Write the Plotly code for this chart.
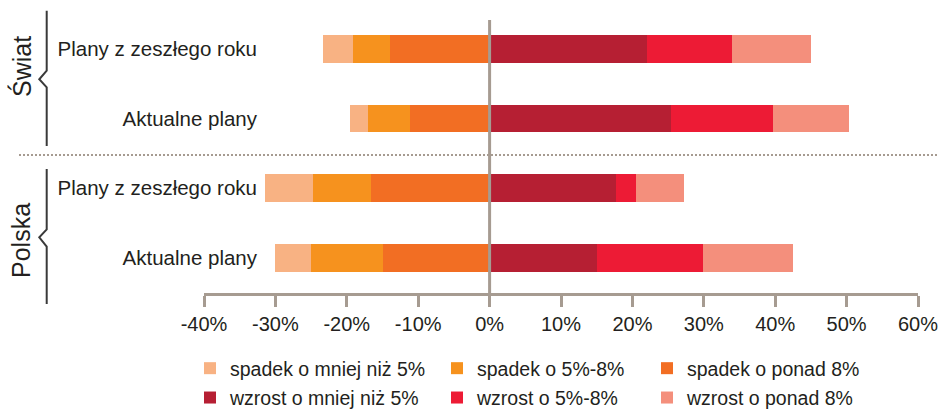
"""Diverging stacked bar chart: planned changes, Świat vs Polska."""

import plotly.graph_objects as go

# ---------------------------------------------------------------------------
# Data
# ---------------------------------------------------------------------------

row_labels = [
    "Plany z zeszłego roku", "Aktualne plany",
    "Plany z zeszłego roku", "Aktualne plany",
]
group_labels = ["Świat", "Polska"]

# decreases (negative side, from the zero line outwards)
spadek_ponad_8 = [-14.0, -11.1, -16.6, -14.9]
spadek_5_8 = [-5.2, -5.9, -8.1, -10.1]
spadek_mniej_5 = [-4.1, -2.5, -6.7, -5.0]

# increases (positive side, from the zero line outwards)
wzrost_mniej_5 = [22.1, 25.4, 17.7, 15.1]
wzrost_5_8 = [11.8, 14.3, 2.8, 14.8]
wzrost_ponad_8 = [11.1, 10.6, 6.7, 12.6]

x_tick_vals = [-40, -30, -20, -10, 0, 10, 20, 30, 40, 50, 60]
x_tick_labels = ["-40%", "-30%", "-20%", "-10%", "0%", "10%",
                 "20%", "30%", "40%", "50%", "60%"]

# ---------------------------------------------------------------------------
# Style
# ---------------------------------------------------------------------------

W, H = 940, 410
L, R, T, B = 204, 22, 20, 117

FONT = "Liberation Sans, Arial, Helvetica, sans-serif"
TEXT = "#231f20"
AXIS = "#a69b91"
BRACE = "#3a3a3a"

# name, values, colour, legend column
SERIES = [
    ("spadek o ponad 8%", spadek_ponad_8, "#f26e23", "legend3"),
    ("spadek o 5%-8%", spadek_5_8, "#f6921e", "legend2"),
    ("spadek o mniej niż 5%", spadek_mniej_5, "#f8b283", "legend"),
    ("wzrost o mniej niż 5%", wzrost_mniej_5, "#b61f33", "legend"),
    ("wzrost o 5%-8%", wzrost_5_8, "#ed1b35", "legend2"),
    ("wzrost o ponad 8%", wzrost_ponad_8, "#f48f7c", "legend3"),
]


def px_x(px):
    return (px - L) / (W - L - R)


def px_y(py):
    return (H - B - py) / (H - T - B)


def path(points):
    return "M " + " L ".join(f"{px_x(x):.4f},{px_y(y):.4f}" for x, y in points)


def legend_box(left_px):
    return dict(
        xref="container", yref="container",
        x=left_px / W, y=1 - 349 / H,
        xanchor="left", yanchor="top",
        orientation="v",
        traceorder="grouped", tracegroupgap=1,
        bgcolor="rgba(0,0,0,0)",
        font=dict(family=FONT, size=19.5, color=TEXT),
    )


# ---------------------------------------------------------------------------
# Figure
# ---------------------------------------------------------------------------

rows = list(range(len(row_labels)))

fig = go.Figure()
for name, values, colour, legend in SERIES:
    fig.add_trace(go.Bar(
        y=rows,
        x=values,
        orientation="h",
        name=name,
        marker=dict(color=colour, line=dict(width=0)),
        width=0.4,
        legend=legend,
        legendgroup=name,
        hoverinfo="skip",
    ))

shapes = [
    # zero line
    dict(type="line", xref="x", yref="paper", x0=0, x1=0, y0=0, y1=1,
         line=dict(color=AXIS, width=3), layer="above"),
    # separator between groups
    dict(type="line", xref="paper", yref="paper",
         x0=px_x(19), x1=px_x(938), y0=px_y(155), y1=px_y(155),
         line=dict(color=AXIS, width=2, dash="2px,2px")),
    # braces
    dict(type="path", xref="paper", yref="paper",
         path=path([(46.7, 10.7), (46.7, 70.7), (39.3, 79.3), (46.7, 87.3), (46.7, 146)]),
         line=dict(color=BRACE, width=2)),
    dict(type="path", xref="paper", yref="paper",
         path=path([(46.7, 169), (46.7, 229.3), (39.3, 237.3), (46.7, 246.7), (46.7, 304)]),
         line=dict(color=BRACE, width=2)),
]

annotations = [
    dict(text=label, xref="paper", yref="paper", x=px_x(21), y=px_y(cy),
         textangle=-90, showarrow=False, xanchor="center", yanchor="middle",
         font=dict(family=FONT, size=25, color=TEXT))
    for label, cy in zip(group_labels, [67, 241])
]

fig.update_layout(
    width=W, height=H,
    margin=dict(l=L, r=R, t=T, b=B, autoexpand=False),
    paper_bgcolor="white", plot_bgcolor="white",
    font=dict(family=FONT, size=20, color=TEXT),
    barmode="relative",
    bargap=0,
    xaxis=dict(
        range=[-40, 60],
        tickvals=x_tick_vals, ticktext=x_tick_labels,
        showgrid=False, zeroline=False,
        showline=True, linecolor=AXIS, linewidth=3,
        ticks="outside", ticklen=11, tickwidth=3, tickcolor=AXIS,
        tickfont=dict(family=FONT, size=20, color=TEXT),
        automargin=False,
        fixedrange=True,
    ),
    yaxis=dict(
        range=[3.504, -0.414],
        tickvals=rows, ticktext=row_labels,
        showgrid=False, zeroline=False, showline=False, ticks="",
        anchor="free", position=px_x(257),
        tickfont=dict(family=FONT, size=20.5, color=TEXT),
        automargin=False,
        fixedrange=True,
    ),
    legend=legend_box(190),
    legend2=legend_box(437),
    legend3=legend_box(647),
    shapes=shapes,
    annotations=annotations,
)

# drop the browser's default 8px page margin so the figure sits at (0, 0)
fig.write_html(
    "out.html",
    config={"displayModeBar": False},
    post_script="document.body.style.margin = '0';",
)
